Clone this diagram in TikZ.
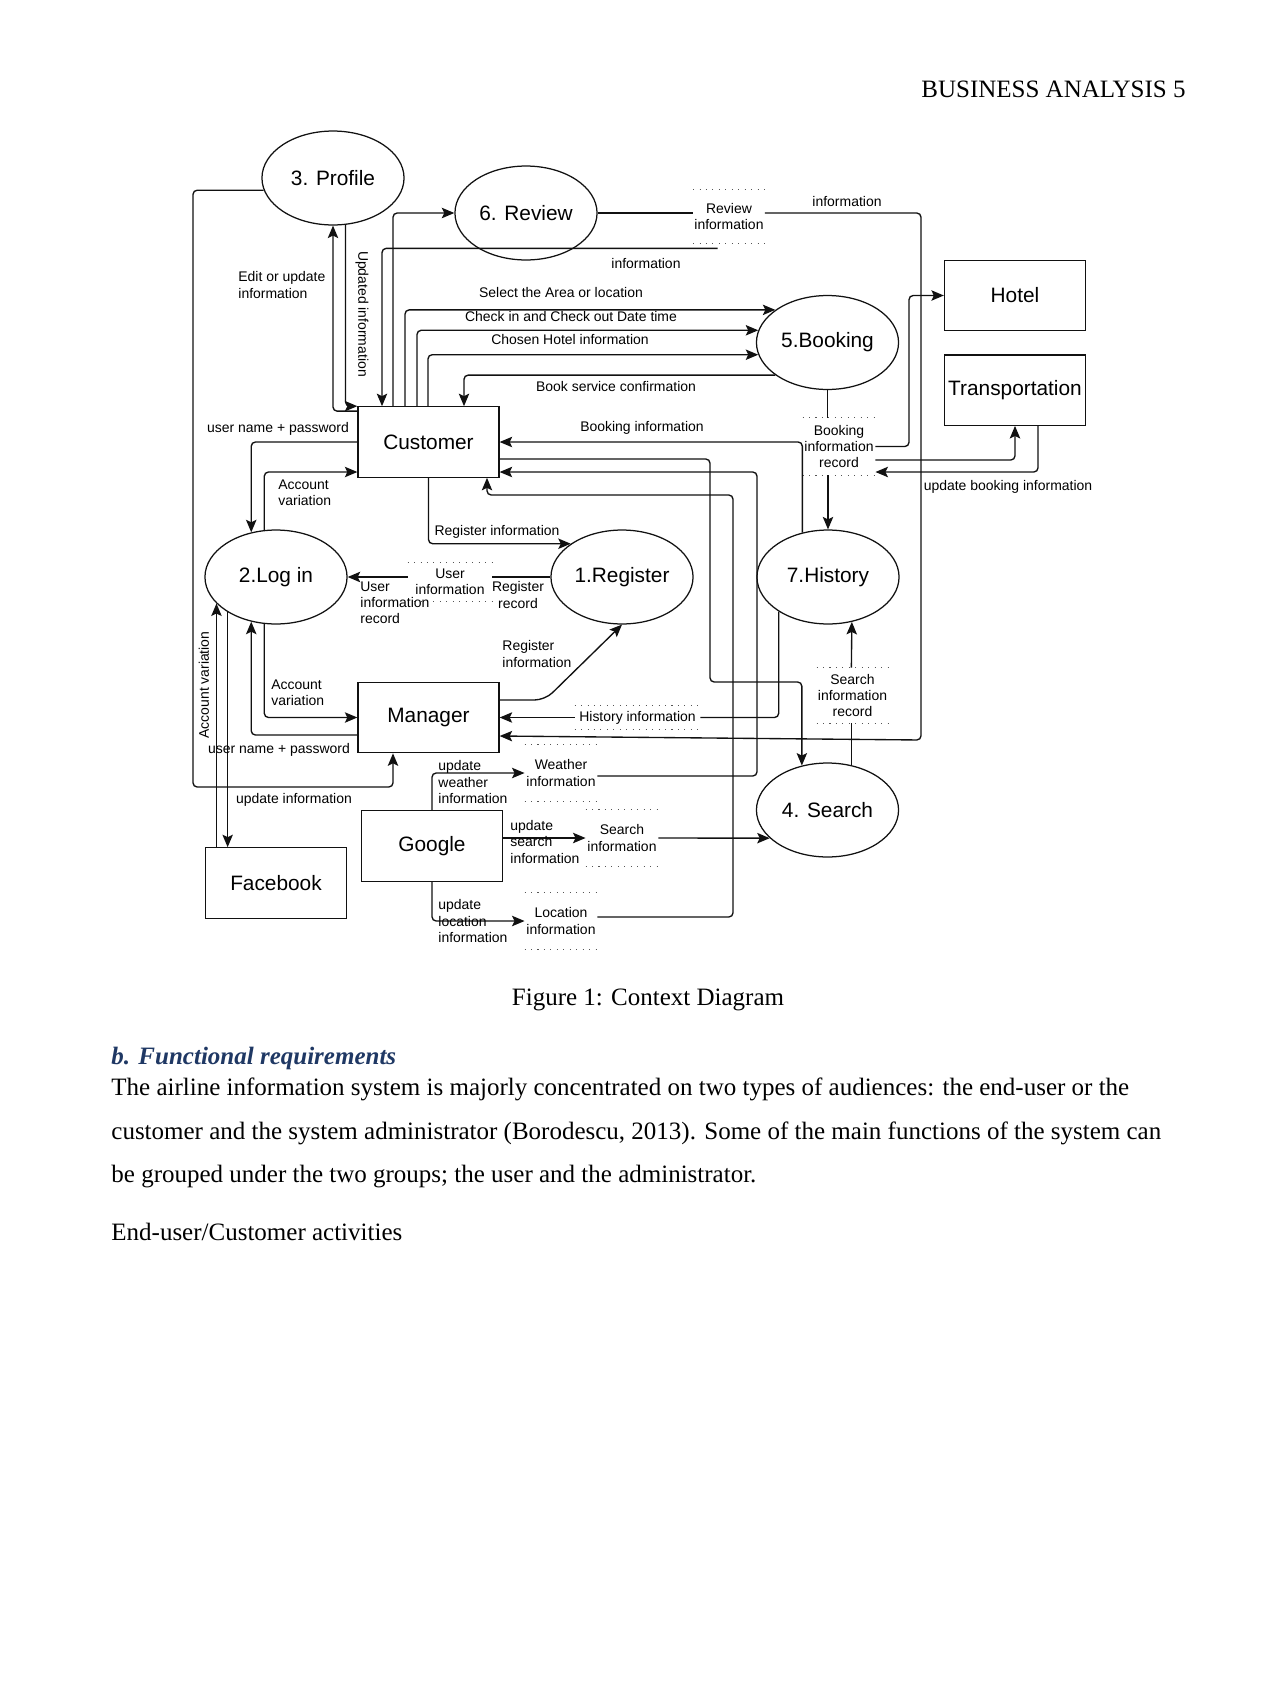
\documentclass[tikz,border=0pt]{standalone}
\usepackage{fontspec}
\setmainfont{Liberation Serif}
\newfontfamily\diagsans{Liberation Sans}
\usepackage{xcolor}
\usetikzlibrary{arrows.meta,positioning,shapes.geometric}
\definecolor{inkline}{HTML}{111111}
\definecolor{dotgray}{HTML}{555555}
\definecolor{headblue}{HTML}{1F3864}
\newcommand{\procfont}{\diagsans\fontsize{10}{12}\selectfont}
\newcommand{\lblfont}{\diagsans\fontsize{6.7}{7.8}\selectfont}
\newcommand{\pagefont}{\fontsize{12}{14}\selectfont}
\tikzset{
  procnode/.style={
    ellipse, draw=inkline, line width=0.6pt,
    minimum width=68.2pt, minimum height=45.1pt,
    inner sep=0pt, font=\procfont
  },
  extnode/.style={
    rectangle, draw=inkline, line width=0.6pt,
    minimum width=67.7pt, minimum height=33.8pt,
    inner sep=0pt, font=\procfont
  },
  dotrule/.style={draw=dotgray, line width=0.5pt, dash pattern=on 0.5pt off 2.6pt, -},
  storenode/.style={
    inner sep=0pt, align=center, font=\lblfont,
    append after command={
      (\tikzlastnode.north west) edge[dotrule] (\tikzlastnode.north east)
      (\tikzlastnode.south west) edge[dotrule] (\tikzlastnode.south east)}
  },
  flowline/.style={draw=inkline, line width=0.65pt, rounded corners=2pt},
  flowarrow/.style={flowline, -{Stealth[length=6pt,width=5pt,inset=1.2pt]}},
  flowlabel/.style={font=\lblfont, inner sep=0pt, align=left},
  pagetext/.style={font=\pagefont, inner sep=0pt, anchor=base west},
}

\begin{document}
\begin{tikzpicture}[x=0.48pt, y=-0.48pt]
  \fill[white] (0,0) rectangle (1275,1703);
  \useasboundingbox (0,0) rectangle (1275,1703);
  \node[font=\pagefont, inner sep=0pt, anchor=base east] (runhead) at (1186,97) {BUSINESS ANALYSIS 5};

  % processes
  \node[procnode] (profile) at (333,178) {3. Profile};
  \node[procnode] (review) at (526,213) {6. Review};
  \node[procnode] (booking) at (827.5,342.5) {5.Booking};
  \node[procnode] (login) at (276,577) {2.Log in};
  \node[procnode] (register) at (622,577) {1.Register};
  \node[procnode] (history) at (828,577) {7.History};
  \node[procnode] (search) at (827.5,810) {4. Search};

  % external entities
  \node[extnode] (customer) at (428.5,442) {Customer};
  \node[extnode] (manager) at (428.5,717.5) {Manager};
  \node[extnode] (google) at (432,846) {Google};
  \node[extnode] (facebook) at (276,883) {Facebook};
  \node[extnode] (hotel) at (1015,295.5) {Hotel};
  \node[extnode, below=11pt of hotel] (transport) {Transportation};

  % data stores
  \node[storenode, minimum width=34.1pt, minimum height=25.4pt] (revstore) at (729,216.5) {Review\\information};
  \node[storenode, minimum width=34.6pt, minimum height=27.4pt] (bstore) at (839,446.5) {Booking\\information\\record};
  \node[storenode, minimum width=40.3pt, minimum height=18.7pt] (ustore) at (450,582) {User\\information};
  \node[storenode, minimum width=34.1pt, minimum height=26.4pt] (sstore) at (852.5,695.5) {Search\\information\\record};
  \node[storenode, minimum width=60pt, minimum height=11pt] (hstore) at (637.5,717.5) {History information};
  \node[storenode, minimum width=34.6pt, minimum height=26.6pt] (wstore) at (561,773) {Weather\\information};
  \node[storenode, minimum width=34.6pt, minimum height=26.6pt] (qstore) at (622,838) {Search\\information};
  \node[storenode, minimum width=34.6pt, minimum height=26.6pt] (lstore) at (561,921) {Location\\information};

  % profile and review
  \draw[flowarrow] (profile.190) -- (193,0 |- profile.190) -- (193,787) -| (manager.south -| 393,0);
  \draw[flowarrow] ([yshift=-2.4pt]customer.north west) -| (profile.south);
  \draw[flowarrow] (profile.285) |- (customer.north west);
  \draw[flowarrow] (393,0 |- customer.north) |- (review.west);
  \draw[flowarrow] ([shift={(-5.5pt,-2.4pt)}]revstore.south) -| (382,0 |- customer.north);
  \draw[flowline] (review.east) -- (review.east -| revstore.west);
  \draw[flowarrow] (review.east -| revstore.east) -| (921,740) -- (manager.east |- 0,736);

  % booking
  \foreach \xcol/\ang in {405/148, 417/170, 428/190}
    \draw[flowarrow] (\xcol,0 |- customer.north) |- (booking.\ang);
  \draw[flowarrow] (booking.212) -| (464,0 |- customer.north);
  \draw[flowline] (booking.south) -- (booking.south |- bstore.north);
  \draw[flowarrow] (history.north |- bstore.south) -- (history.north);
  \draw[flowarrow] (history.120) |- (customer.east);
  \draw[flowarrow] (bstore.east) -- (909,0 |- bstore.east) |- (hotel.west);
  \draw[flowarrow] (bstore.east |- 0,460) -| (transport.south);
  \draw[flowarrow] (1038,0 |- transport.south) |- (bstore.east |- 0,472);

  % search and history
  \draw[flowarrow] (customer.east |- 0,459) -| (710,682) -| (search.120);
  \draw[flowarrow] (wstore.east |- 0,776) -| (757,472) -- (customer.east |- 0,472);
  \draw[flowarrow] (lstore.east |- 0,917) -| (733,495) -| (487,0 |- customer.south);
  \draw[flowline] (search.62) -- (search.62 |- sstore.south);
  \draw[flowarrow] (search.62 |- sstore.north) -- (history.298);
  \draw[flowline] (history.215) |- (hstore.east);
  \draw[flowarrow] (hstore.west) -- (manager.east |- hstore.west);

  % register and log in
  \draw[flowarrow, rounded corners=5pt] (manager.east |- 0,700) -- (545,700) -- (register.south);
  \draw[flowline] (register.west) -- (register.west -| ustore.east);
  \draw[flowarrow] (register.west -| ustore.west) -- (login.east);
  \draw[flowarrow] (customer.south) |- (register.147);
  \draw[flowarrow] (customer.west) -| (login.119);
  \draw[flowarrow] (login.104) |- (customer.west |- 0,472);
  \draw[flowarrow] (login.256) |- (manager.west);
  \draw[flowarrow] (manager.west |- 0,735) -| (login.241);
  \draw[flowarrow] (login.204 |- facebook.north) -- (login.204);
  \draw[flowarrow] (login.216) -- (login.216 |- facebook.north);

  % google
  \draw[flowarrow] (google.north) |- (wstore.west);
  \draw[flowarrow] (google.east |- qstore.west) -- (qstore.west);
  \draw[flowarrow] (qstore.east) -- (search.206);
  \draw[flowarrow] (google.south) |- (lstore.west);

  % flow labels
  \node[flowlabel, anchor=west] (editlbl) at (238,285) {Edit or update\\information};
  \node[flowlabel, rotate=-90] (updlbl) at (362,314) {Updated information};
  \node[flowlabel] (revinfo) at (847,202) {information};
  \node[flowlabel] (custinfo) at (646,264) {information};
  \node[flowlabel] (arealbl) at (561,293) {Select the Area or location};
  \node[flowlabel] (datelbl) at (571,317) {Check in and Check out Date time};
  \node[flowlabel] (hotellbl) at (570,340) {Chosen Hotel information};
  \node[flowlabel] (conflbl) at (616,387) {Book service confirmation};
  \node[flowlabel] (binfolbl) at (642,428) {Booking information};
  \node[flowlabel] (updbooklbl) at (1008,487) {update booking information};
  \node[flowlabel] (upwlbl) at (278,429) {user name + password};
  \node[flowlabel, anchor=west] (acclbl) at (278,493) {Account\\variation};
  \node[flowlabel] (reglbl) at (497,532) {Register information};
  \node[flowlabel, anchor=west] (uirlbl) at (360,603) {User\\information\\record};
  \node[flowlabel, align=center] (rrlbl) at (518,595) {Register\\record};
  \node[flowlabel, anchor=west] (mreglbl) at (502,654) {Register\\information};
  \node[flowlabel, anchor=west] (macclbl) at (271,693) {Account\\variation};
  \node[flowlabel] (mupwlbl) at (279,750) {user name + password};
  \node[flowlabel, rotate=90] (fbacclbl) at (204,685) {Account variation};
  \node[flowlabel] (profupdlbl) at (294,800) {update information};
  \node[flowlabel, anchor=west] (gwlbl) at (438,782) {update\\weather\\information};
  \node[flowlabel, anchor=west] (gslbl) at (510,842) {update\\search\\information};
  \node[flowlabel, anchor=west] (gllbl) at (438,921) {update\\location\\information};

  % page text
  \node[font=\pagefont, inner sep=0pt, anchor=base] (caption) at (648,1005) {Figure 1: Context Diagram};
  \node[pagetext, text=headblue, font=\pagefont\bfseries\itshape] (fhead) at (111,1064) {b. Functional requirements};
  \node[pagetext] (para1) at (111,1095) {The airline information system is majorly concentrated on two types of audiences: the end-user or the};
  \node[pagetext] (para2) at (111,1139) {customer and the system administrator (Borodescu, 2013). Some of the main functions of the system can};
  \node[pagetext] (para3) at (111,1182) {be grouped under the two groups; the user and the administrator.};
  \node[pagetext] (para4) at (111,1240) {End-user/Customer activities};
\end{tikzpicture}
\end{document}
